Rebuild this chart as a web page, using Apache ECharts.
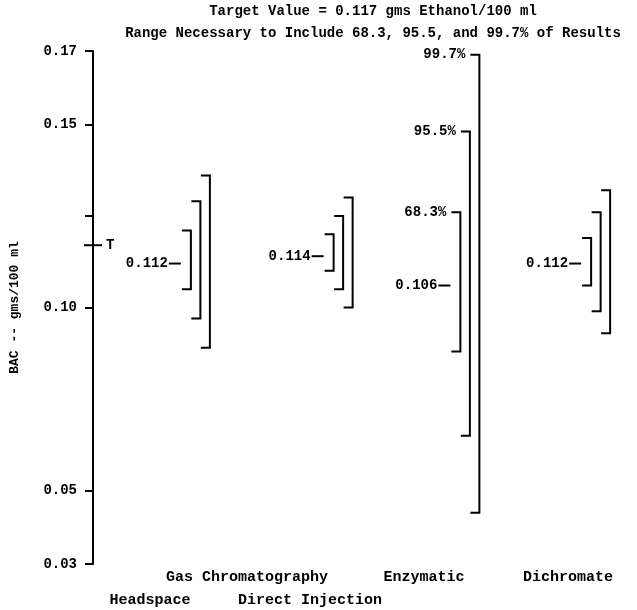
<!DOCTYPE html>
<html><head><meta charset="utf-8">
<script src="https://cdn.jsdelivr.net/npm/echarts@6/dist/echarts.min.js"></script>
<style>html,body{margin:0;padding:0;background:#fff}#c{width:637px;height:610px}</style>
</head><body><div id="c"></div>
<script>
// ---------- data ----------
const titleLines = ['Target Value = 0.117 gms Ethanol/100 ml',
                    'Range Necessary to Include 68.3, 95.5, and 99.7% of Results'];
const yAxisTitle = 'BAC -- gms/100 ml';
const methods = ['Headspace', 'Direct Injection', 'Enzymatic', 'Dichromate'];
const groupLabel = 'Gas Chromatography';
const centerValues = [0.112, 0.114, 0.106, 0.112];
const centerLabels = ['0.112', '0.114', '0.106', '0.112'];
const range683Low  = [0.105, 0.110, 0.088, 0.106];
const range683High = [0.121, 0.120, 0.126, 0.119];
const range955Low  = [0.097, 0.105, 0.065, 0.099];
const range955High = [0.129, 0.125, 0.148, 0.126];
const range997Low  = [0.089, 0.100, 0.044, 0.093];
const range997High = [0.136, 0.130, 0.169, 0.132];
const percentLabels = ['68.3%', '95.5%', '99.7%'];
const percentLabelMethod = 'Enzymatic';
const targetValue = 0.117;
const targetLabel = 'T';
const yTickValues = [0.03, 0.05, 0.10, 0.125, 0.15, 0.17];
const yLabelValues = [0.03, 0.05, 0.10, 0.15, 0.17];

// ---------- layout ----------
const FONT = "'Liberation Mono', 'DejaVu Sans Mono', monospace";
const groupShift = [50.5, 60.5, 54.5, 52.5];   // px from category centre to outer bracket
const spacing = 9.5, tickLen = 9, dashGap = 10, dashLen = 12;
const catLabelPos = [[150, 600], [310, 600], [424, 577], [568, 577]];
const groupLabelPos = [247, 577];

const seriesData = methods.map((m, i) => [i, centerValues[i],
  range683Low[i], range683High[i], range955Low[i], range955High[i], range997Low[i], range997High[i]]);

function txt(text, x, y, align, size, weight) {
  return { type: 'text', style: { text: text, x: x, y: y, align: align, textAlign: align,
    verticalAlign: 'middle', textVerticalAlign: 'middle', fontSize: size || 14,
    fontFamily: FONT, fontWeight: weight || 'bold', fill: '#000' } };
}

function renderBrackets(params, api) {
  const i = api.value(0);
  const cx = api.coord([i, api.value(1)])[0];
  const xOuter = cx + groupShift[i];
  const yv = k => api.coord([i, api.value(k)])[1];
  const children = [];
  [[2, 3], [4, 5], [6, 7]].forEach((lv, j) => {
    const x = xOuter - (2 - j) * spacing;
    const yTop = yv(lv[1]), yBot = yv(lv[0]);
    children.push({ type: 'polyline',
      shape: { points: [[x - tickLen, yTop], [x, yTop], [x, yBot], [x - tickLen, yBot]] },
      style: { stroke: '#000', lineWidth: 2, fill: 'none' } });
    if (methods[i] === percentLabelMethod) {
      children.push(txt(percentLabels[j], x - tickLen - 5, yTop, 'right'));
    }
  });
  const xInner = xOuter - 2 * spacing;
  const yc = yv(1);
  children.push({ type: 'line',
    shape: { x1: xInner - dashGap - dashLen, y1: yc, x2: xInner - dashGap, y2: yc },
    style: { stroke: '#000', lineWidth: 2 } });
  children.push(txt(centerLabels[i], xInner - dashGap - dashLen - 1, yc, 'right'));
  return { type: 'group', children: children };
}

function renderTarget(params, api) {
  const y = api.coord([0, api.value(1)])[1];
  const x = params.coordSys.x;
  return { type: 'group', children: [
    { type: 'line', shape: { x1: x - 9, y1: y, x2: x + 9, y2: y }, style: { stroke: '#000', lineWidth: 2 } },
    txt(targetLabel, x + 13, y, 'left')
  ] };
}

const graphics = [
  txt(titleLines[0], 373, 11, 'center'),
  txt(titleLines[1], 373, 33, 'center'),
  txt(groupLabel, groupLabelPos[0], groupLabelPos[1], 'center', 15)
];
methods.forEach((m, i) => graphics.push(txt(m, catLabelPos[i][0], catLabelPos[i][1], 'center', 15)));

const chart = echarts.init(document.getElementById('c'), null, { renderer: 'canvas' });
chart.setOption({
  animation: false,
  backgroundColor: '#fff',
  grid: { left: 84, right: 13, top: 51, bottom: 46, containLabel: false },
  xAxis: { type: 'category', data: methods, boundaryGap: true,
    axisLine: { show: false }, axisTick: { show: false }, axisLabel: { show: false }, splitLine: { show: false } },
  yAxis: { type: 'value', min: 0.03, max: 0.17, position: 'left',
    name: yAxisTitle, nameLocation: 'middle', nameGap: 72, nameRotate: 90,
    nameTextStyle: { fontFamily: FONT, fontSize: 13, fontWeight: 'bold', color: '#000' },
    axisLine: { show: true, lineStyle: { color: '#000', width: 2 } },
    axisTick: { show: true, inside: false, length: 8, customValues: yTickValues, lineStyle: { color: '#000', width: 2 } },
    axisLabel: { customValues: yLabelValues, formatter: v => v.toFixed(2), margin: 16,
      fontFamily: FONT, fontSize: 14, fontWeight: 'bold', color: '#000' },
    splitLine: { show: false } },
  graphic: graphics,
  series: [
    { type: 'custom', renderItem: renderBrackets, data: seriesData, encode: { x: 0, y: 1 }, clip: false },
    { type: 'custom', renderItem: renderTarget, data: [[0, targetValue]], encode: { x: 0, y: 1 }, clip: false }
  ]
});
</script></body></html>
